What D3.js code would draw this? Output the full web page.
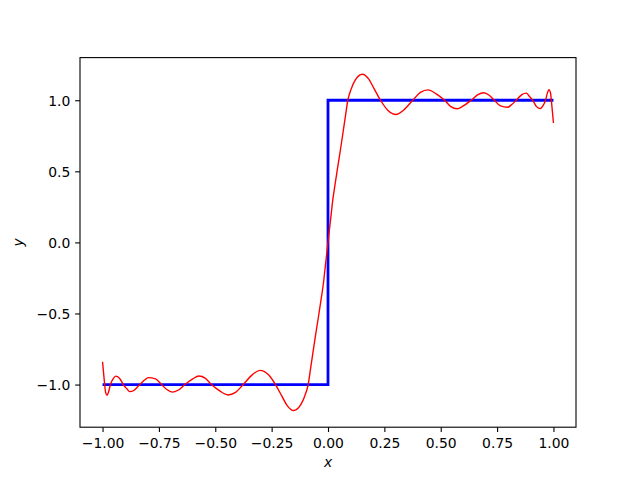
<!DOCTYPE html>
<html>
<head>
<meta charset="utf-8">
<script src="https://cdn.jsdelivr.net/npm/d3@7"></script>
<style>
  body { margin: 0; background: #fff; }
  svg { display: block; font-family: "DejaVu Sans", sans-serif; }
</style>
</head>
<body>
<svg id="chart"></svg>
<script>
// step function (blue)
const stepX = [-1, 0, 0, 1];
const stepY = [-1, -1, 1, 1];

// approximation curve (red)
const approxX = [
  -1.0, -0.993, -0.987, -0.980, -0.973, -0.965, -0.953, -0.942, -0.925, -0.908,
  -0.892, -0.880, -0.860, -0.835, -0.815, -0.797, -0.765, -0.738, -0.715, -0.691,
  -0.665, -0.635, -0.600, -0.573, -0.545, -0.517, -0.480, -0.444, -0.410, -0.376,
  -0.335, -0.301, -0.265, -0.233, -0.205, -0.180, -0.153, -0.120, -0.103, -0.088,
  -0.077, -0.066, -0.055, -0.043, -0.032, -0.021, -0.010, 0,
  0.010, 0.021, 0.032, 0.043, 0.055, 0.066, 0.077, 0.088, 0.103, 0.120, 0.153, 0.180, 0.205, 0.233,
  0.265, 0.301, 0.335, 0.376, 0.410, 0.444, 0.480, 0.517, 0.545, 0.573,
  0.600, 0.635, 0.665, 0.691, 0.715, 0.738, 0.765, 0.797, 0.815, 0.835,
  0.860, 0.880, 0.892, 0.908, 0.925, 0.942, 0.953, 0.965, 0.973, 0.980,
  0.987, 0.993, 1.0
];
const approxY = [
  -0.84, -0.96, -1.05, -1.075, -1.05, -1.0, -0.96, -0.941, -0.955, -1.0,
  -1.03, -1.05, -1.04, -1.0, -0.97, -0.951, -0.96, -1.0, -1.035, -1.053,
  -1.04, -1.0, -0.96, -0.940, -0.955, -1.0, -1.045, -1.073, -1.055, -1.0,
  -0.93, -0.900, -0.93, -1.0, -1.08, -1.15, -1.183, -1.14, -1.08, -1.0,
  -0.885, -0.766, -0.65, -0.53, -0.415, -0.296, -0.14, 0,
  0.14, 0.296, 0.415, 0.53, 0.65, 0.766, 0.885, 1.0, 1.08, 1.14, 1.183, 1.15, 1.08, 1.0,
  0.93, 0.900, 0.93, 1.0, 1.055, 1.073, 1.045, 1.0, 0.955, 0.940,
  0.96, 1.0, 1.04, 1.053, 1.035, 1.0, 0.96, 0.951, 0.97, 1.0,
  1.04, 1.05, 1.03, 1.0, 0.955, 0.941, 0.96, 1.0, 1.05, 1.075,
  1.05, 0.96, 0.84
];

const xTicks = [-1.0, -0.75, -0.5, -0.25, 0, 0.25, 0.5, 0.75, 1.0];
const yTicks = [-1.0, -0.5, 0, 0.5, 1.0];

const width = 640, height = 480;
const margin = { top: 57.6, right: 64, bottom: 52.8, left: 80 };
const innerWidth = width - margin.left - margin.right;
const innerHeight = height - margin.top - margin.bottom;

const svg = d3.select("#chart").attr("width", width).attr("height", height);
const g = svg.append("g").attr("transform", `translate(${margin.left},${margin.top})`);

const x = d3.scaleLinear().domain([-1.1, 1.1]).range([0, innerWidth]);
const y = d3.scaleLinear().domain([-1.3, 1.3]).range([innerHeight, 0]);

const fmtMinus = s => s.replace("-", "\u2212");

g.append("clipPath").attr("id", "clip")
  .append("rect").attr("width", innerWidth).attr("height", innerHeight);

const plot = g.append("g").attr("clip-path", "url(#clip)");

const line = d3.line().x(d => x(d[0])).y(d => y(d[1]));

plot.append("path")
  .datum(stepX.map((v, i) => [v, stepY[i]]))
  .attr("d", line)
  .attr("fill", "none")
  .attr("stroke", "#0000ff")
  .attr("stroke-width", 2.78);

plot.append("path")
  .datum(approxX.map((v, i) => [v, approxY[i]]))
  .attr("d", line.curve(d3.curveMonotoneX))
  .attr("fill", "none")
  .attr("stroke", "#ff0000")
  .attr("stroke-width", 1.39);

// axes
const xAxis = d3.axisBottom(x).tickValues(xTicks)
  .tickFormat(d => fmtMinus(d3.format(".2f")(d))).tickSize(4.86).tickPadding(4.86);
const yAxis = d3.axisLeft(y).tickValues(yTicks)
  .tickFormat(d => fmtMinus(d3.format(".1f")(d))).tickSize(4.86).tickPadding(4.86);

const xAxisG = g.append("g").attr("transform", `translate(0,${innerHeight})`).call(xAxis);
const yAxisG = g.append("g").call(yAxis);

[xAxisG, yAxisG].forEach(a => {
  a.select(".domain").remove();
  a.attr("font-size", null).attr("font-family", null);
  a.selectAll(".tick line").attr("stroke", "#000").attr("stroke-width", 1.1);
  a.selectAll(".tick text").attr("fill", "#000")
    .style("font-size", "13.9px").style("font-family", "DejaVu Sans");
});
xAxisG.selectAll(".tick text").attr("dy", null).attr("y", 20.5);
yAxisG.selectAll(".tick text").attr("dy", null).attr("y", 5);

// spines
g.append("rect")
  .attr("width", innerWidth).attr("height", innerHeight)
  .attr("fill", "none").attr("stroke", "#000").attr("stroke-width", 1.1);

// axis labels
g.append("text")
  .attr("x", innerWidth / 2).attr("y", innerHeight + 40)
  .attr("text-anchor", "middle")
  .style("font-size", "13.9px").style("font-style", "italic")
  .text("x");

g.append("text")
  .attr("transform", `translate(${-57},${innerHeight / 2}) rotate(-90)`)
  .attr("text-anchor", "middle")
  .style("font-size", "13.9px").style("font-style", "italic")
  .text("y");
</script>
</body>
</html>
